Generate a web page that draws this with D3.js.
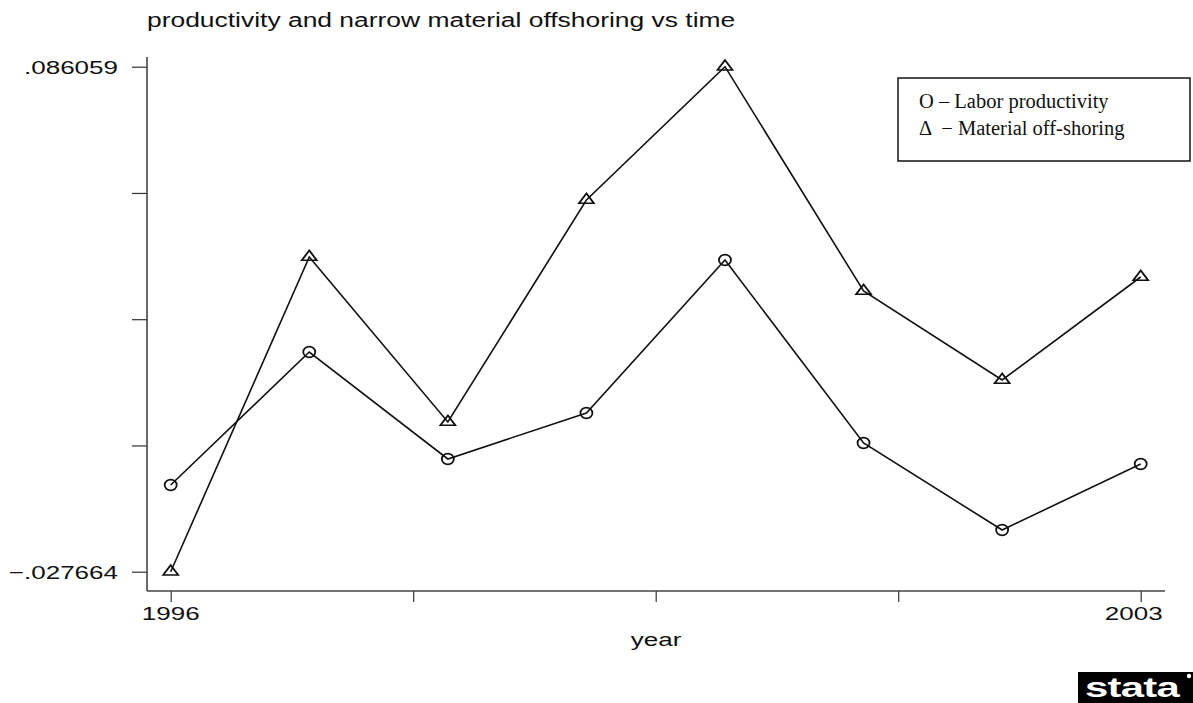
<!DOCTYPE html>
<html>
<head>
<meta charset="utf-8">
<script src="https://cdn.jsdelivr.net/npm/d3@7"></script>
<style>
  body { margin: 0; background: #fff; }
  svg { display: block; }
</style>
</head>
<body>
<svg width="1193" height="703"></svg>
<script>
const width = 1193;
const height = 703;

// data
const years = [1996, 1997, 1998, 1999, 2000, 2001, 2002, 2003];
const laborProductivity = [-0.008141, 0.021809, -0.002281, 0.008079, 0.042529, 0.001319, -0.018271, -0.003411];
const materialOffshoring = [-0.027664, 0.043205, 0.006049, 0.056039, 0.086059, 0.035549, 0.015509, 0.038699];
const yTicks = [-0.027664, 0.000767, 0.029198, 0.057628, 0.086059];
const yTickLabels = ['\u2212.027664', '', '', '', '.086059'];
const xTicks = [1996, 1997.75, 1999.5, 2001.25, 2003];
const xTickLabels = ['1996', '', '', '', '2003'];

const stretch = 1.37; // the picture is wider than tall, text looks stretched
const sans = "'Liberation Sans', Arial, Helvetica, sans-serif";

const svg = d3.select('svg');

const x = d3.scaleLinear().domain([1996, 2003]).range([170.7, 1140.7]);
const y = d3.scaleLinear().domain([-0.027664, 0.086059]).range([571.7, 66.7]);

const plotLeft = 147, plotBottom = 591, plotTop = 57, plotRight = 1165;

function stretchedText(g, tx, ty, str, anchor, size) {
  return g.append('text')
    .attr('transform', `translate(${tx},${ty}) scale(${stretch},1)`)
    .attr('text-anchor', anchor)
    .style('font-family', sans)
    .style('font-size', size + 'px')
    .attr('fill', '#111')
    .text(str);
}

// title
stretchedText(svg, 147, 27, 'productivity and narrow material offshoring vs time', 'start', 19.3);

// axes
const yAxis = d3.axisLeft(y).tickValues(yTicks).tickFormat('').tickSize(15).tickSizeOuter(0);
const yg = svg.append('g').attr('transform', `translate(${plotLeft},0)`).call(yAxis);
yg.select('.domain').remove();
yg.selectAll('.tick line').attr('stroke', '#333').attr('stroke-width', 1.2);
svg.append('line')
  .attr('x1', plotLeft).attr('x2', plotLeft)
  .attr('y1', plotTop).attr('y2', plotBottom)
  .attr('stroke', '#444').attr('stroke-width', 1.6);

const xAxis = d3.axisBottom(x).tickValues(xTicks).tickFormat('').tickSize(11).tickSizeOuter(0);
const xg = svg.append('g').attr('transform', `translate(0,${plotBottom})`).call(xAxis);
xg.select('.domain').remove();
xg.selectAll('.tick line').attr('stroke', '#333').attr('stroke-width', 1.2);
svg.append('line')
  .attr('x1', plotLeft).attr('x2', plotRight)
  .attr('y1', plotBottom).attr('y2', plotBottom)
  .attr('stroke', '#444').attr('stroke-width', 1.6);

// tick labels
yTicks.forEach((v, i) => {
  if (yTickLabels[i]) stretchedText(svg, 118, y(v) + 7, yTickLabels[i], 'end', 19);
});
xTicks.forEach((v, i) => {
  if (!xTickLabels[i]) return;
  const shift = i === xTicks.length - 1 ? -7 : 0;
  stretchedText(svg, x(v) + shift, 620, xTickLabels[i], 'middle', 19);
});

// axis title
stretchedText(svg, 656, 646, 'year', 'middle', 19);

// lines
const line = d3.line().x(d => x(d[0])).y(d => y(d[1]));
const laborData = years.map((yr, i) => [yr, laborProductivity[i]]);
const materialData = years.map((yr, i) => [yr, materialOffshoring[i]]);

svg.append('path').datum(laborData).attr('d', line)
  .attr('fill', 'none').attr('stroke', '#111').attr('stroke-width', 1.6);
svg.append('path').datum(materialData).attr('d', line)
  .attr('fill', 'none').attr('stroke', '#111').attr('stroke-width', 1.6);

// markers
svg.append('g').selectAll('ellipse')
  .data(laborData).enter().append('ellipse')
  .attr('cx', d => x(d[0])).attr('cy', d => y(d[1]))
  .attr('rx', 6).attr('ry', 5.4)
  .attr('fill', 'none').attr('stroke', '#111').attr('stroke-width', 1.8);

const tri = d3.symbol().type(d3.symbolTriangle).size(62);
svg.append('g').selectAll('path')
  .data(materialData).enter().append('path')
  .attr('d', tri)
  .attr('transform', d => `translate(${x(d[0])},${y(d[1])}) scale(1.25,0.95)`)
  .attr('fill', 'none').attr('stroke', '#111').attr('stroke-width', 1.6);

// legend box
const legend = svg.append('g');
legend.append('rect')
  .attr('x', 898).attr('y', 78).attr('width', 292).attr('height', 83)
  .attr('fill', '#fff').attr('stroke', '#111').attr('stroke-width', 1.5);
const serif = "'Liberation Serif', 'Times New Roman', serif";
legend.append('text').attr('x', 919).attr('y', 108)
  .style('font-family', serif).style('font-size', '20.5px').attr('fill', '#111')
  .text('O \u2013 Labor productivity');
legend.append('text').attr('x', 919).attr('y', 135)
  .style('font-family', serif).style('font-size', '20.5px').attr('fill', '#111')
  .attr('xml:space', 'preserve').style('white-space', 'pre')
  .text('\u0394  \u2212 Material off-shoring');

// stata badge
const badge = svg.append('g');
badge.append('rect').attr('x', 1078).attr('y', 672).attr('width', 115).attr('height', 31).attr('fill', '#000');
badge.append('text')
  .attr('transform', `translate(1132,697) scale(1.55,1)`)
  .attr('text-anchor', 'middle')
  .style('font-family', sans).style('font-size', '27px').style('font-weight', 'bold')
  .style('letter-spacing', '-0.5px')
  .attr('fill', '#fff').text('stata');
badge.append('circle').attr('cx', 1189).attr('cy', 676).attr('r', 2.2).attr('fill', '#fff');
</script>
</body>
</html>
